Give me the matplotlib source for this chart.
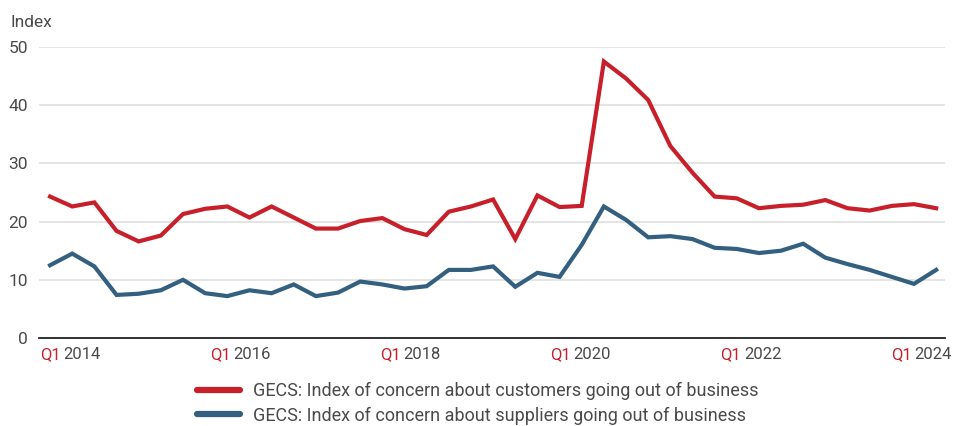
import matplotlib
matplotlib.use("Agg")
import matplotlib.pyplot as plt
import numpy as np
from matplotlib.lines import Line2D

plt.rcParams['font.family'] = ['Roboto', 'DejaVu Sans']

quarters = [f"Q{q} {y}" for y in range(2014, 2025) for q in range(1, 5)][:41]

customers = [24.3, 22.6, 23.3, 18.4, 16.6, 17.6, 21.3, 22.2, 22.6, 20.7,
             22.6, 20.7, 18.8, 18.8, 20.1, 20.6, 18.7, 17.7, 21.7, 22.6,
             23.8, 17.0, 24.5, 22.5, 22.7, 47.5, 44.6, 40.9, 33.0, 28.4,
             24.3, 24.0, 22.3, 22.7, 22.9, 23.7, 22.3, 21.9, 22.7, 23.0,
             22.3]
suppliers = [12.5, 14.5, 12.3, 7.4, 7.6, 8.2, 10.0, 7.7, 7.2, 8.2,
             7.7, 9.2, 7.2, 7.8, 9.7, 9.2, 8.5, 8.9, 11.7, 11.7,
             12.3, 8.8, 11.2, 10.5, 16.0, 22.6, 20.3, 17.3, 17.5, 17.0,
             15.5, 15.3, 14.6, 15.0, 16.2, 13.8, 12.7, 11.7, 10.5, 9.3,
             11.7]
series_names = ["GECS: Index of concern about customers going out of business",
                "GECS: Index of concern about suppliers going out of business"]
year_labels = ["2014", "2016", "2018", "2020", "2022", "2024"]
yticks = [0, 10, 20, 30, 40, 50]

RED = "#C8202B"
BLUE = "#336080"
TXT = "#4a4a4a"

fig = plt.figure(figsize=(9.62, 4.26), dpi=100)
ax = fig.add_axes([39/962, 1-338/426, 906/962, 291/426])
x = np.arange(len(quarters))
ax.plot(x, customers, color=RED, lw=3.0, solid_joinstyle='miter', zorder=3)
ax.plot(x, suppliers, color=BLUE, lw=3.0, solid_joinstyle='miter', zorder=3)

ax.set_xlim(-0.5, 40.4)
ax.set_ylim(0, 50)
ax.set_yticks(yticks)
ax.set_yticklabels([str(v) for v in yticks])
ax.tick_params(axis='y', length=0, pad=8, labelsize=12.5, labelcolor=TXT)
ax.set_xticks([])
ax.grid(axis='y', color='#e2e2e2', lw=1.3)
ax.set_axisbelow(True)
for s in ['top', 'right', 'left']:
    ax.spines[s].set_visible(False)
ax.spines['bottom'].set_color('#222222')
ax.spines['bottom'].set_linewidth(1.3)
ax.spines['bottom'].set_zorder(4)

ax.text(-0.032, 1.085, "Index", transform=ax.transAxes, ha='left', va='center',
        fontsize=12.5, color=TXT)

for frac, yr in zip(np.linspace(0.001, 0.94, 6), year_labels):
    t1 = ax.text(frac, -0.03, "Q1", transform=ax.transAxes, ha='left', va='top',
                 fontsize=12, color=RED)
    ax.annotate(yr, xy=(1, 0), xycoords=t1, xytext=(2, 0),
                textcoords='offset points', ha='left', va='bottom',
                fontsize=12, color=TXT)

handles = [Line2D([], [], color=RED, lw=4.5, solid_capstyle='round'),
           Line2D([], [], color=BLUE, lw=4.5, solid_capstyle='round')]
fig.legend(handles, series_names, loc='upper left', bbox_to_anchor=(197/962, 1-382/426),
           frameon=False, fontsize=13, labelcolor=TXT, handlelength=2.4,
           handletextpad=0.7, labelspacing=0.35, borderaxespad=0, borderpad=0)

fig.savefig("out.png", dpi=100)
